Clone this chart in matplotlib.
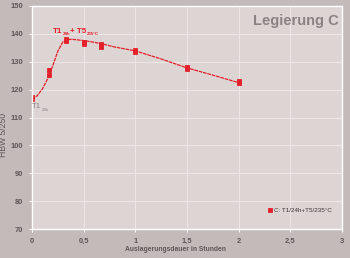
import matplotlib
matplotlib.use("Agg")
import matplotlib.pyplot as plt
import matplotlib.font_manager as fm
from matplotlib.ticker import FuncFormatter

# measured points (hours, HBW)
x_pts = [0, 0, 1/6, 1/6, 1/3, 1/3, 0.5, 0.5, 2/3, 2/3, 1, 1, 1.5, 1.5, 2, 2]
y_pts = [116.5, 117.2, 125.2, 127.0, 137.5, 138.3, 136.4, 137.1, 135.4, 136.3,
         133.6, 134.3, 127.5, 128.2, 122.5, 123.2]

# trend curve
x_curve = [0, 0.05, 0.1, 0.15, 0.2, 0.25, 0.3, 0.35, 0.4, 0.5, 0.6, 0.7, 0.8, 0.9, 1.0,
           1.25, 1.5, 1.75, 2.0]
y_curve = [116.5, 117.8, 120.2, 123.8, 128.5, 133.8, 137.2, 138.0, 138.0, 137.6, 137.0,
           136.2, 135.3, 134.6, 133.9, 131.0, 127.8, 125.2, 122.5]

x_ticks = [0, 0.5, 1, 1.5, 2, 2.5, 3]
y_ticks = [70, 80, 90, 100, 110, 120, 130, 140, 150]

title = "Legierung C"
legend_label = "C: T1/24h+T5/235°C"
x_label = "Auslagerungsdauer in Stunden"
y_label = "HBW 5/250"

outer_bg = "#c3bbba"
plot_bg = "#ddd5d4"
red = "#e4202a"
gray_text = "#5e5758"

names = {f.name for f in fm.fontManager.ttflist}
narrow = "Liberation Sans Narrow" in names
if narrow:
    NF = ["Liberation Sans Narrow", "DejaVu Sans"]
    s_title, s_xlab, s_tick, s_leg, s_ylab = 12.5, 6.0, 6.0, 5.6, 7.5
else:
    NF = ["Liberation Sans", "DejaVu Sans"]
    s_title, s_xlab, s_tick, s_leg, s_ylab = 10.5, 4.9, 5.4, 4.5, 6.2
WF = ["Liberation Sans", "DejaVu Sans"]

fig = plt.figure(figsize=(3.5, 2.58), dpi=100, facecolor=outer_bg)
ax = fig.add_axes([32/350, 1 - 229/258, 310/350, 223/258])
ax.set_facecolor(plot_bg)

ax.set_xlim(0, 3)
ax.set_ylim(70, 150)
ax.set_xticks(x_ticks)
ax.set_yticks(y_ticks)
ax.xaxis.set_major_formatter(FuncFormatter(lambda v, p: ("%g" % v).replace(".", ",")))
ax.grid(True, color="#ece7e6", linewidth=0.8)
ax.set_axisbelow(True)
for s in ax.spines.values():
    s.set_color("white")
    s.set_linewidth(1.0)
ax.tick_params(axis="both", colors="white", labelcolor=gray_text, labelsize=s_tick,
               length=2.5, width=0.8, pad=4)

ax.plot(x_curve, y_curve, color=red, linewidth=0.9, linestyle=(0, (3, 0.6)))
ax.plot(x_pts, y_pts, linestyle="none", marker="s", markersize=3.0, color=red,
        markeredgewidth=0.6, label=legend_label)

ax.text(0.99, 0.965, title, transform=ax.transAxes, ha="right", va="top",
        fontsize=s_title, fontweight="bold", color="#8a8283", family=NF)


def chain(x, y, pieces, color, weight):
    """pieces: list of (text, size, dy_points); each placed right after the previous."""
    prev = None
    for txt, size, dy in pieces:
        if prev is None:
            prev = ax.text(x, y, txt, color=color, fontsize=size, fontweight=weight,
                           ha="left", va="baseline", family=WF)
        else:
            prev = ax.annotate(txt, xy=(1, 0), xycoords=prev, xytext=(0.2, dy),
                               textcoords="offset points", color=color, fontsize=size,
                               fontweight=weight, ha="left", va="bottom", family=WF)


# red annotation with tiny subscripts as in the original
chain(0.203, 140.3, [("T1", 5.8, 0), ("24h", 3.2, -1.0), ("+ T5", 5.8, 1.0),
                     ("235°C", 3.2, -1.0)], red, "bold")
# gray label at the start
chain(0.0, 113.3, [("T1", 5.6, 0), ("24h", 3.2, -1.0)], "#8e8788", "normal")

leg = ax.legend(loc="lower right", bbox_to_anchor=(0.985, 0.045), frameon=False,
                handlelength=0.6, handletextpad=0.4, markerscale=0.8,
                prop={"family": NF, "size": s_leg})
for t in leg.get_texts():
    t.set_color("#3a3536")

ax.set_xlabel(x_label, fontsize=s_xlab, fontweight="bold", color=gray_text, family=NF)
ax.set_ylabel(y_label, fontsize=s_ylab, color=gray_text, family=NF)
ax.yaxis.set_label_coords(-0.078, 0.42)
ax.xaxis.set_label_coords(0.462, -0.075)

for lbl in ax.get_xticklabels() + ax.get_yticklabels():
    lbl.set_family(NF)
    lbl.set_fontweight("bold")

fig.savefig("out.png", dpi=100, facecolor=outer_bg)
